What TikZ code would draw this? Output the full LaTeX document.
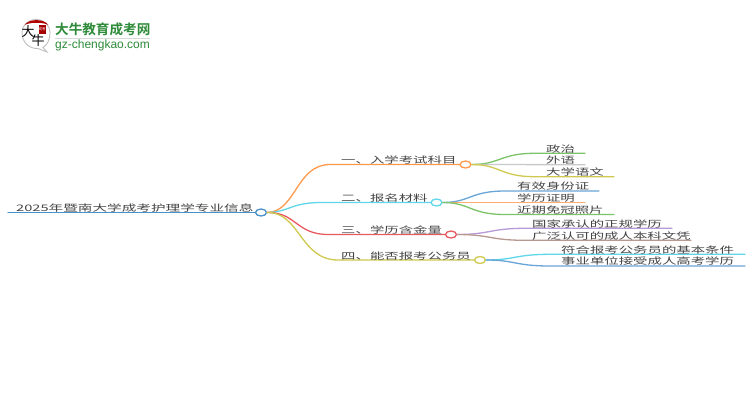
\documentclass[tikz,border=0pt]{standalone}
\usepackage{fontspec}
\setmainfont{Noto Sans CJK SC}
\newfontfamily\logofont[BoldFont=Noto Sans CJK SC Bold]{Noto Sans CJK SC}
\newfontfamily\urlfont{Liberation Sans}
\definecolor{cRoot}{HTML}{4A90C8}
\definecolor{cOrange}{HTML}{FF9A4D}
\definecolor{cCyan}{HTML}{5FD7E8}
\definecolor{cRed}{HTML}{E8595F}
\definecolor{cOlive}{HTML}{CFC94E}
\definecolor{cGreen}{HTML}{7CC36A}
\definecolor{cGrey}{HTML}{C8C8C8}
\definecolor{cBlue}{HTML}{6AA5D8}
\definecolor{cPurple}{HTML}{B79AD8}
\definecolor{cBrown}{HTML}{B89890}
\definecolor{cText}{HTML}{444444}
\definecolor{cLogo}{HTML}{2E8B3A}
\newcommand{\wide}[1]{\scalebox{1.6}[1]{#1}}
\usetikzlibrary{shapes.geometric}
\tikzset{
  lbl/.style={inner sep=0pt,anchor=base west,text=cText,font=\fontsize{9}{9}\selectfont},
  dot/.style={ellipse,draw=#1,line width=1.3pt,fill=white,minimum width=11pt,minimum height=7pt,inner sep=0pt},
  wire/.style={line width=1.3pt,draw=#1,line cap=round},
}
\begin{document}
\begin{tikzpicture}[x=1pt,y=-1pt]
\useasboundingbox (0,0) rectangle (750,410);
\fill[white] (0,0) rectangle (750,410);
% logo
\draw[line width=.9pt,draw=black!25,fill=white] (38,48.5) .. controls (29,49) and (22,42) .. (22,33) .. controls (22,25) and (28,19.5) .. (36,19.5) .. controls (44,19.5) and (50,25) .. (50,33) .. controls (50,40) and (47,45) .. (43,47.5) -- (47,52) -- cycle;
\fill[red!70!black] (24.5,25) .. controls (29,18.5) and (44,18.5) .. (48.5,25) .. controls (43,22) and (30,22) .. (24.5,25) -- cycle;
\node[inner sep=0pt,fill=red!65!black,text=white,minimum width=7pt,minimum height=9pt,font=\fontsize{3.5}{4}\selectfont] (seal) at (42,29) {成考};
\node[inner sep=0pt,text=black,font=\fontsize{13}{13}\selectfont] (logoa) at (28,32) {大};
\node[inner sep=0pt,text=black,font=\fontsize{13}{13}\selectfont] (logob) at (38,41) {牛};
\node[inner sep=0pt,anchor=west,text=cLogo,font=\logofont\bfseries\fontsize{13.6}{14}\selectfont] (logotitle) at (55,29.5) {大牛教育成考网};
\node[inner sep=0pt,anchor=west,text=cLogo,font=\urlfont\fontsize{12}{12}\selectfont] (logourl) at (55,45.5) {gz-chengkao.com};
\draw[line width=.8pt,draw=black!15] (55,38.5) -- (150,38.5);

% circles
\node[dot=cRoot] (root) at (261,212.5) {};
\node[dot=cOrange] (b1) at (465.5,164.5) {};
\node[dot=cCyan] (b2) at (436.5,202.5) {};
\node[dot=cRed] (b3) at (451,234.5) {};
\node[dot=cOlive] (b4) at (480,260) {};
% line ends
\coordinate (rootend) at (8,212.5);
\coordinate (f1) at (330,164.5);
\coordinate (f2) at (322,202.5);
\coordinate (f3) at (328,234.5);
\coordinate (f4) at (338,260);
\coordinate (l11) at (585,153.3);
\coordinate (l12) at (585,164.7);
\coordinate (l13) at (614,176.7);
\coordinate (l21) at (599,191);
\coordinate (l22) at (585,202.5);
\coordinate (l23) at (614,214.5);
\coordinate (l31) at (672,228.3);
\coordinate (l32) at (691,240.3);
\coordinate (l41) at (745,254.3);
\coordinate (l42) at (745,266);
% connectors
\draw[wire=cRoot] (rootend) -- (root.west);
\draw[wire=cOrange] (root.east) .. controls (296,212) and (296,164.5) .. (f1) -- (b1.west);
\draw[wire=cCyan] (root.east) .. controls (290,212) and (290,202.5) .. (f2) -- (b2.west);
\draw[wire=cRed] (root.east) .. controls (296,212) and (296,234.5) .. (f3) -- (b3.west);
\draw[wire=cOlive] (root.east) .. controls (300,212) and (300,260) .. (f4) -- (b4.west);
\draw[wire=cGreen] (b1.east) .. controls (500,164.5) and (500,153.3) .. (535,153.3) -- (l11);
\draw[wire=cGrey] (b1.east) -- (l12);
\draw[wire=cOlive] (b1.east) .. controls (500,164.5) and (500,176.7) .. (535,176.7) -- (l13);
\draw[wire=cBlue] (b2.east) .. controls (470,202.5) and (470,191) .. (505,191) -- (l21);
\draw[wire=cOrange!80] (b2.east) -- (l22);
\draw[wire=cGreen] (b2.east) .. controls (470,202.5) and (470,214.5) .. (505,214.5) -- (l23);
\draw[wire=cPurple] (b3.east) .. controls (490,234.5) and (490,228.3) .. (525,228.3) -- (l31);
\draw[wire=cBrown] (b3.east) .. controls (490,234.5) and (490,240.3) .. (525,240.3) -- (l32);
\draw[wire=cCyan] (b4.east) .. controls (515,260) and (515,254.3) .. (550,254.3) -- (l41);
\draw[wire=cBlue] (b4.east) .. controls (515,260) and (515,266) .. (550,266) -- (l42);
% labels
\node[lbl] (t0) at (16,211.5) {\scalebox{1.625}[1]{2025年暨南大学成考护理学专业信息}};
\node[lbl] (t1) at (341,163.6) {\wide{一、入学考试科目}};
\node[lbl] (t2) at (341,201.6) {\wide{二、报名材料}};
\node[lbl] (t3) at (341,233.6) {\wide{三、学历含金量}};
\node[lbl] (t4) at (341,259) {\wide{四、能否报考公务员}};
\node[lbl] (t11) at (546,152.2) {\wide{政治}};
\node[lbl] (t12) at (546,163.6) {\wide{外语}};
\node[lbl] (t13) at (546,175.6) {\wide{大学语文}};
\node[lbl] (t21) at (517,189.9) {\wide{有效身份证}};
\node[lbl] (t22) at (517,201.4) {\wide{学历证明}};
\node[lbl] (t23) at (517,213.4) {\wide{近期免冠照片}};
\node[lbl] (t31) at (532,227.2) {\wide{国家承认的正规学历}};
\node[lbl] (t32) at (532,239.2) {\wide{广泛认可的成人本科文凭}};
\node[lbl] (t41) at (561,253.2) {\wide{符合报考公务员的基本条件}};
\node[lbl] (t42) at (561,264.9) {\wide{事业单位接受成人高考学历}};
\end{tikzpicture}
\end{document}
